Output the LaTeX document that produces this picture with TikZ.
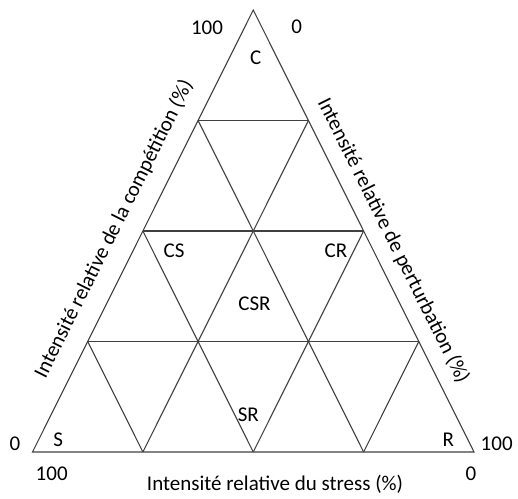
\documentclass[tikz,border=0pt]{standalone}
\usepackage{fontspec}
\setmainfont{Carlito}
\usetikzlibrary{calc}
\tikzset{
GRID/.style ={draw=black!75,line join=miter,line cap=butt,line width=1.1pt},
LABEL/.style={font=\fontsize{21}{25}\selectfont,inner sep=0pt},
}

\begin{document}
\begin{tikzpicture}[x=1pt,y=1pt]
	\useasboundingbox (0,0) rectangle (518,498); %Margins
	\coordinate (A) at (253.25,488);
	\coordinate (L) at (32.5,46);
	\coordinate (B) at (474,46);
	%Triangle
	\path[GRID] (L) -- (A) -- (B) -- cycle;
	%Subdivision
	\foreach \i in {1,2,3}{
		\path[GRID] ($(L)!\i/4!(A)$) -- ($(B)!\i/4!(A)$);
		\path[GRID] ($(L)!\i/4!(B)$) -- ($(B)!{1-\i/4}!(A)$);
		\path[GRID] ($(L)!\i/4!(B)$) -- ($(L)!\i/4!(A)$);
	}
	%Strategies
	\node[LABEL] (C) at (255.7,440.7) {C};
	\node[LABEL] (CS) at (174,247.3) {CS};
	\node[LABEL] (CR) at (336,247.3) {CR};
	\node[LABEL] (CSR) at (254.5,194.7) {CSR};
	\node[LABEL] (SR) at (248.3,83) {SR};
	\node[LABEL] (S) at (58.3,58.7) {S};
	\node[LABEL] (R) at (448.3,58.7) {R};
	%Scales
	\node[LABEL] (topcomp) at (207,470.7) {100};
	\node[LABEL] (toppert) at (296.7,471) {0};
	\node[LABEL] (leftcomp) at (15,54.7) {0};
	\node[LABEL] (rightpert) at (496.7,54.7) {100};
	\node[LABEL] (leftstress) at (51.7,24) {100};
	\node[LABEL] (rightstress) at (471,24) {0};
	%Axes
	\node[LABEL] (stress) at (275,14) {Intensité relative du stress (\%)};
	\node[LABEL,rotate=63.46] (comp) at (114,269) {Intensité relative de la compétition (\%)};
	\node[LABEL,rotate=-63.46] (pert) at (393.3,257.2) {Intensité relative de perturbation (\%)};
\end{tikzpicture}
\end{document}
